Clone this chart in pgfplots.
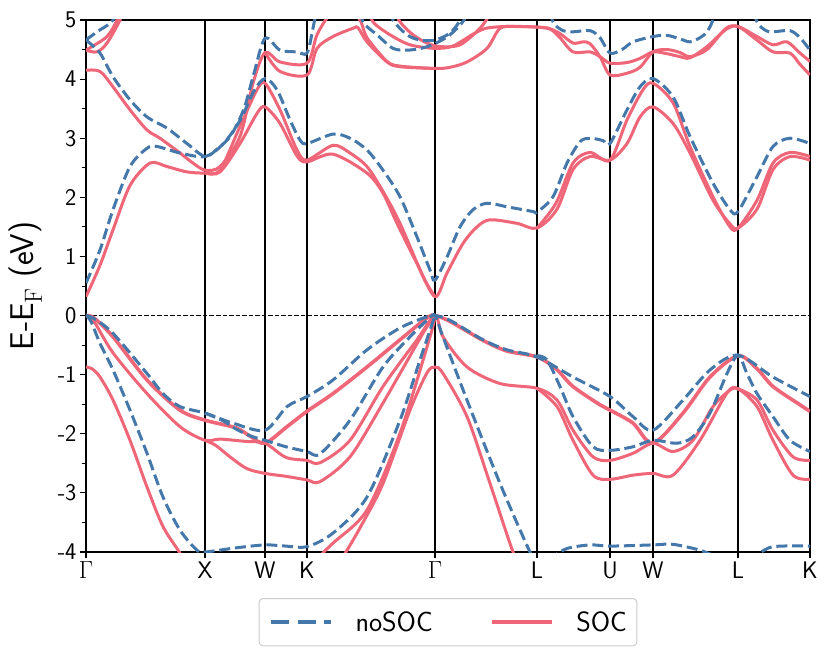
\documentclass[border=0pt]{standalone}
\usepackage{pgfplots}
\pgfplotsset{compat=1.18}
\renewcommand{\familydefault}{\sfdefault}
\definecolor{tolblue}{HTML}{4477AA}
\definecolor{tolred}{HTML}{EE6677}
\definecolor{leggray}{HTML}{CCCCCC}
\pgfplotsset{
 nosoc/.style={color=tolblue, line width=3bp, dash pattern=on 11bp off 4.8bp, smooth, forget plot},
 soc/.style={color=tolred, line width=3bp, smooth, forget plot},
}
\begin{document}
\begin{tikzpicture}
\begin{axis}[
 width=724bp, height=532bp, scale only axis,
 xmin=0, xmax=724, ymin=-4, ymax=5,
 xtick={0,119,179,221,349,451,524,567,652,724},
 xticklabels={$\Gamma$,X,W,K,$\Gamma$,L,U,W,L,K},
 ytick={-4,-3,...,5}, minor ytick={-3.5,-2.5,...,4.5},
 tick align=outside, tick pos=left,
 major tick length=6bp, minor tick length=3.5bp,
 every tick/.style={black, line width=1.2bp},
 every minor tick/.style={black, line width=1bp},
 axis line style={black, line width=1.2bp},
 xmajorgrids, major x grid style={black, line width=1.4bp},
 /pgf/number format/assume math mode=true,
 tick label style={font=\fontsize{24}{28}\selectfont},
 ylabel={E-E$_{\mathrm{F}}$ (eV)},
 ylabel style={font=\fontsize{33}{38}\selectfont},
 ylabel shift=9bp,
 legend columns=2,
 legend style={at={(0.5,-0.0865)}, anchor=north,
   draw=leggray, line width=1bp, rounded corners=4bp,
   font=\fontsize{28}{32}\selectfont,
   inner xsep=10bp, inner ysep=13bp,
   nodes={inner sep=0pt},
   /tikz/every odd column/.append style={column sep=22bp},
   /tikz/every even column/.append style={column sep=57bp}},
 legend image code/.code={\draw[#1] plot coordinates {(0bp,0bp) (30bp,0bp) (60bp,0bp)};},
]
\addlegendimage{color=tolblue, line width=4.5bp, dash pattern=on 18bp off 8.5bp}
\addlegendentry{noSOC}
\addlegendimage{color=tolred, line width=4.5bp}
\addlegendentry{SOC}

\addplot[black, line width=1.2bp, dash pattern=on 4.5bp off 2bp, forget plot] coordinates {(0,0) (724,0)};

% ---------------- SOC (red) ----------------
\addplot[soc] coordinates {(0,0.32) (14,0.85) (27,1.45) (44,2.2) (64,2.58) (81,2.52) (101,2.43) (119,2.41) (134,2.43) (154,2.91) (171,3.42) (179,3.53) (194,3.25) (211,2.7) (221,2.6) (247,2.73) (281,2.41) (297,2.07) (311,1.56) (331,0.88) (349,0.32) (361,0.72) (377,1.22) (391,1.50) (404,1.62) (431,1.56) (451,1.48) (471,1.8) (487,2.47) (504,2.69) (524,2.63) (541,2.91) (554,3.36) (567,3.53) (587,3.25) (604,2.75) (627,1.95) (644,1.55) (652,1.48) (671,1.8) (687,2.47) (704,2.69) (724,2.63)};
\addplot[soc] coordinates {(119,2.41) (134,2.46) (154,3.2) (171,3.82) (179,3.93) (194,3.48) (211,2.8) (221,2.63) (247,2.88) (264,2.75) (281,2.52) (297,2.1) (314,1.56) (337,0.66) (349,0.32)};
\addplot[soc] coordinates {(451,1.48) (470,1.90) (487,2.58) (504,2.76) (524,2.63) (541,3.31) (557,3.82) (567,3.93) (587,3.6) (604,2.86) (627,2.01) (644,1.50) (652,1.48) (671,1.95) (687,2.58) (704,2.76) (724,2.69)};
\addplot[soc] coordinates {(0,4.15) (14,4.13) (27,3.87) (44,3.48) (61,3.14) (74,3.0) (94,2.75) (107,2.58) (119,2.46) (134,2.52) (154,3.03) (167,3.93) (179,4.45) (194,4.29) (221,4.27) (231,4.75) (244,5.1) (259,5.3) (274,5.0) (281,4.7) (301,4.3) (314,4.22) (349,4.18) (364,4.2) (381,4.29) (401,4.52) (414,4.86) (430,4.89) (451,4.88) (464,4.85) (474,4.77) (487,4.61) (497,4.63) (504,4.6) (514,4.38) (524,4.07) (541,4.1) (554,4.2) (567,4.46) (581,4.5) (594,4.45) (604,4.38) (621,4.5) (640,4.86) (652,4.89) (671,4.72) (687,4.58) (701,4.63) (714,4.44) (724,4.30)};
\addplot[soc] coordinates {(179,4.45) (194,4.13) (221,4.07) (231,4.52) (247,4.72) (267,4.86) (272,4.87) (281,4.63) (301,4.29) (314,4.21) (349,4.18)};
\addplot[soc] coordinates {(280,5.3) (287,4.97) (304,4.75) (324,4.58) (349,4.52) (367,4.56) (387,4.76) (400,4.86) (420,4.89) (451,4.88) (464,4.85) (474,4.7) (487,4.46) (504,4.46) (514,4.38) (524,4.27) (541,4.28) (554,4.35) (567,4.46) (581,4.43) (594,4.38) (604,4.36) (621,4.55) (640,4.84) (652,4.89) (671,4.66) (687,4.46) (704,4.44) (714,4.25) (724,4.07)};
\addplot[soc] coordinates {(305,5.3) (314,4.97) (327,4.75) (341,4.61) (354,4.55) (374,4.58) (394,4.86) (404,5.1) (410,5.3)};
\addplot[soc] coordinates {(0,4.49) (11,4.46) (21,4.61) (34,5.0) (40,5.3)};
\addplot[soc] coordinates {(0,4.49) (3,4.52) (21,4.72) (31,5.0) (36,5.3)};
% valence SOC
\addplot[soc, line width=3.6bp] coordinates {(0,0) (8,-0.04) (27,-0.36) (61,-1.09) (94,-1.60) (119,-1.77) (150,-1.9) (165,-2.05) (179,-2.16) (201,-1.88) (221,-1.62) (247,-1.32) (281,-0.87) (314,-0.41) (341,-0.04) (349,0) (364,-0.1) (397,-0.42) (421,-0.6) (451,-0.70) (470,-0.9) (487,-1.2) (514,-1.51) (524,-1.60) (547,-1.82) (567,-2.16) (597,-1.65) (624,-1.04) (652,-0.68) (671,-0.9) (687,-1.2) (714,-1.51) (724,-1.62)};
\addplot[soc] coordinates {(0,0) (8,-0.1) (27,-0.63) (61,-1.32) (94,-1.88) (119,-2.11) (134,-2.09) (160,-2.13) (179,-2.16) (200,-2.4) (221,-2.45) (234,-2.49) (264,-2.11) (297,-1.20) (331,-0.41) (349,0) (357,-0.36) (381,-0.87) (414,-1.15) (451,-1.23) (471,-1.43) (487,-1.94) (507,-2.39) (524,-2.45) (547,-2.33) (567,-2.16) (587,-2.30) (607,-2.11) (627,-1.54) (644,-1.26) (652,-1.24) (671,-1.43) (687,-1.94) (707,-2.39) (724,-2.45)};
\addplot[soc] coordinates {(119,-2.11) (130,-2.2) (144,-2.39) (161,-2.59) (179,-2.67) (200,-2.72) (221,-2.78) (234,-2.81) (264,-2.39) (297,-1.48) (337,-0.30) (349,0)};
\addplot[soc] coordinates {(451,-1.23) (471,-1.54) (487,-2.11) (507,-2.70) (524,-2.77) (547,-2.70) (567,-2.67) (587,-2.70) (614,-2.11) (641,-1.31) (652,-1.24) (671,-1.54) (687,-2.11) (707,-2.70) (724,-2.77)};
\addplot[soc] coordinates {(0,-0.87) (6,-0.9) (14,-1.04) (27,-1.43) (44,-2.11) (61,-2.90) (77,-3.57) (94,-4.02) (110,-4.5)};
\addplot[soc] coordinates {(235,-4.6) (257,-4.08) (277,-3.5) (297,-2.84) (324,-1.60) (341,-0.97) (349,-0.87) (357,-0.98) (381,-1.71) (404,-2.84) (427,-4.0) (440,-4.5)};
\addplot[soc] coordinates {(215,-4.6) (234,-4.08) (247,-3.85) (281,-3.29) (314,-1.99) (344,-0.36) (349,0)};

% ---------------- noSOC (blue dashed) ----------------
\addplot[nosoc] coordinates {(0,0.55) (14,1.11) (27,1.79) (44,2.52) (61,2.83) (71,2.86) (94,2.75) (119,2.69) (137,2.9) (154,3.3) (168,3.8) (179,4.01) (191,3.82) (204,3.31) (214,2.97) (221,2.91) (247,3.07) (264,3.0) (281,2.80) (297,2.46) (314,2.01) (331,1.33) (344,0.77) (349,0.6) (361,0.99) (374,1.5) (387,1.79) (401,1.90) (421,1.84) (447,1.76) (451,1.75) (467,2.01) (481,2.58) (494,2.94) (504,3.0) (517,2.96) (524,2.91) (541,3.48) (554,3.87) (567,4.01) (587,3.70) (604,3.03) (627,2.24) (644,1.79) (652,1.76) (671,2.35) (687,2.86) (704,3.0) (724,2.91)};
\addplot[nosoc] coordinates {(0,4.66) (14,4.44) (27,4.04) (44,3.65) (61,3.36) (81,3.17) (101,2.91) (119,2.69) (132,2.83) (145,3.05) (158,3.5) (168,4.1) (179,4.69) (194,4.49) (211,4.46) (221,4.44) (227,4.86) (233,5.4)};
\addplot[nosoc] coordinates {(270,5.4) (277,4.97) (291,4.75) (307,4.52) (321,4.49) (335,4.52) (349,4.6) (364,4.75) (378,5.0) (388,5.4)};
\addplot[nosoc] coordinates {(297,5.4) (307,5.0) (321,4.75) (334,4.66) (349,4.66) (364,4.78) (374,5.0) (382,5.4)};
\addplot[nosoc] coordinates {(0,4.66) (3,4.7) (11,4.8) (27,5.0) (35,5.4)};
\addplot[nosoc] coordinates {(460,5.4) (467,4.97) (477,4.82) (487,4.80) (504,4.82) (514,4.7) (524,4.44) (536,4.5) (547,4.63) (567,4.72) (581,4.74) (594,4.68) (604,4.63) (614,4.7) (621,4.80) (627,5.0) (635,5.4)};
\addplot[nosoc] coordinates {(664,5.4) (671,4.97) (680,4.82) (687,4.80) (704,4.82) (714,4.7) (724,4.49)};
% valence noSOC
\addplot[nosoc] coordinates {(0,0) (8,-0.05) (27,-0.30) (61,-0.98) (77,-1.32) (94,-1.54) (119,-1.65) (147,-1.82) (179,-1.94) (201,-1.54) (221,-1.37) (247,-1.09) (281,-0.58) (314,-0.21) (341,-0.02) (349,0) (364,-0.08) (397,-0.41) (421,-0.58) (451,-0.70) (487,-1.04) (524,-1.37) (547,-1.71) (567,-1.94) (597,-1.43) (624,-0.92) (652,-0.67) (687,-1.04) (724,-1.37)};
\addplot[nosoc] coordinates {(119,-1.65) (137,-1.78) (150,-1.92) (165,-2.04) (179,-2.11) (200,-2.22) (221,-2.30) (234,-2.34) (264,-1.77) (297,-0.87) (324,-0.36) (343,-0.05) (349,0) (357,-0.36) (381,-1.43) (414,-2.84) (444,-4.0) (451,-4.15) (467,-4.07) (481,-3.94) (504,-3.88) (524,-3.90) (567,-3.88) (587,-3.87) (614,-3.97) (634,-4.1) (652,-4.15) (670,-4.05) (687,-3.91) (724,-3.9)};
\addplot[nosoc] coordinates {(0,0) (5,-0.1) (14,-0.47) (27,-0.92) (44,-1.60) (61,-2.33) (77,-3.07) (94,-3.63) (111,-3.97) (119,-4.0) (150,-3.93) (179,-3.88) (200,-3.9) (221,-3.91) (247,-3.68) (281,-3.07) (314,-1.77) (334,-0.75) (349,0)};
\addplot[nosoc] coordinates {(451,-0.68) (461,-0.75) (474,-1.2) (487,-1.71) (507,-2.22) (524,-2.28) (547,-2.22) (567,-2.11) (591,-2.16) (607,-2.05) (624,-1.65) (641,-0.98) (652,-0.67) (661,-0.98) (671,-1.32) (687,-1.71) (704,-2.11) (724,-2.30)};
\end{axis}
\pgfresetboundingbox
\path[use as bounding box] ([xshift=-86bp,yshift=-110bp]current axis.south west) rectangle ([xshift=21bp,yshift=20bp]current axis.north east);
\end{tikzpicture}
\end{document}
